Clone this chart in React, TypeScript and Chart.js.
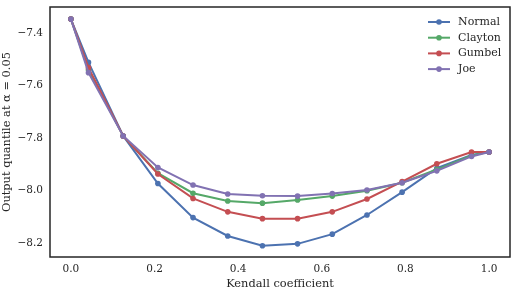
import React, { useEffect, useRef } from "react";
import { Chart, registerables } from "chart.js";

Chart.register(...registerables);

const kendall = [0, 0.042, 0.125, 0.208, 0.292, 0.375, 0.458, 0.542, 0.625, 0.708, 0.792, 0.875, 0.958, 1.0];
const normalQ = [-7.347, -7.512, -7.792, -7.973, -8.103, -8.173, -8.21, -8.203, -8.166, -8.093, -8.006, -7.915, -7.864, -7.853];
const claytonQ = [-7.347, -7.54, -7.792, -7.934, -8.01, -8.04, -8.048, -8.036, -8.021, -8.001, -7.97, -7.92, -7.866, -7.853];
const gumbelQ = [-7.347, -7.532, -7.792, -7.937, -8.03, -8.081, -8.107, -8.107, -8.081, -8.032, -7.966, -7.898, -7.853, -7.853];
const joeQ = [-7.347, -7.551, -7.792, -7.912, -7.979, -8.013, -8.02, -8.021, -8.011, -7.998, -7.97, -7.925, -7.87, -7.853];

const seriesNames = ["Normal", "Clayton", "Gumbel", "Joe"];
const seriesColors = ["#4C72B0", "#55A868", "#C44E52", "#8172B2"];
const seriesValues = [normalQ, claytonQ, gumbelQ, joeQ];

const xTicks = [0, 0.2, 0.4, 0.6, 0.8, 1.0];
const yTicks = [-8.2, -8.0, -7.8, -7.6, -7.4];

const FONT = "'DejaVu Serif', serif";
const TEXT = "#262626";

const fmt = (v: number) => v.toFixed(1).replace("-", "\u2212");

const framePlugin = {
  id: "frameLegend",
  afterDraw(chart: any) {
    const { ctx, chartArea } = chart;
    ctx.save();
    ctx.strokeStyle = "#262626";
    ctx.lineWidth = 1.5;
    ctx.strokeRect(chartArea.left, chartArea.top, chartArea.right - chartArea.left, chartArea.bottom - chartArea.top);
    // legend
    ctx.font = `11px ${FONT}`;
    ctx.textBaseline = "middle";
    ctx.textAlign = "left";
    seriesNames.forEach((name, i) => {
      const y = chartArea.top + 15 + i * 15.7;
      const x0 = chartArea.right - 82;
      const x1 = chartArea.right - 60;
      ctx.strokeStyle = seriesColors[i];
      ctx.lineWidth = 2;
      ctx.beginPath();
      ctx.moveTo(x0, y);
      ctx.lineTo(x1, y);
      ctx.stroke();
      ctx.fillStyle = seriesColors[i];
      ctx.beginPath();
      ctx.arc((x0 + x1) / 2, y, 2.8, 0, Math.PI * 2);
      ctx.fill();
      ctx.fillStyle = TEXT;
      ctx.fillText(name, chartArea.right - 52, y);
    });
    ctx.restore();
  },
};

export default function App() {
  const ref = useRef<HTMLCanvasElement>(null);
  useEffect(() => {
    if (!ref.current) return;
    const chart = new Chart(ref.current, {
      type: "line",
      data: {
        datasets: seriesNames.map((name, i) => ({
          label: name,
          data: kendall.map((x, j) => ({ x, y: seriesValues[i][j] })),
          borderColor: seriesColors[i],
          backgroundColor: seriesColors[i],
          pointBackgroundColor: seriesColors[i],
          pointBorderWidth: 0,
          pointRadius: 2.8,
          borderWidth: 2,
          tension: 0,
          order: 4 - i,
        })),
      },
      options: {
        responsive: false,
        animation: false,
        layout: { padding: { top: 7, right: 4, left: 0, bottom: 0 } },
        plugins: { legend: { display: false }, tooltip: { enabled: false } },
        scales: {
          x: {
            type: "linear",
            min: -0.05,
            max: 1.05,
            afterBuildTicks: (s: any) => {
              s.ticks = xTicks.map((v) => ({ value: v }));
            },
            afterFit: (s: any) => {
              s.height = 39;
              s.paddingLeft = 0;
              s.paddingRight = 0;
            },
            grid: { display: false, drawTicks: false },
            border: { display: false },
            ticks: {
              padding: 6,
              color: TEXT,
              font: { family: FONT, size: 10.5 },
              callback: (v: any) => fmt(Number(v)),
              maxRotation: 0,
            },
            title: {
              display: true,
              text: "Kendall coefficient",
              color: TEXT,
              font: { family: FONT, size: 11.4 },
              padding: { top: 0, bottom: 5 },
            },
          },
          y: {
            type: "linear",
            min: -8.253,
            max: -7.301,
            afterBuildTicks: (s: any) => {
              s.ticks = yTicks.map((v) => ({ value: v }));
            },
            afterFit: (s: any) => {
              s.width = 50;
              s.paddingTop = 0;
              s.paddingBottom = 0;
            },
            grid: { display: false, drawTicks: false },
            border: { display: false },
            ticks: {
              padding: 7,
              color: TEXT,
              font: { family: FONT, size: 10.5 },
              callback: (v: any) => fmt(Number(v)),
            },
            title: {
              display: true,
              text: "Output quantile at \u03b1 = 0.05",
              color: TEXT,
              font: { family: FONT, size: 11.4 },
              padding: { top: 0, bottom: 0 },
            },
          },
        },
      },
      plugins: [framePlugin],
    });
    return () => chart.destroy();
  }, []);
  return (
    <div style={{ position: "absolute", left: 0, top: 0, width: 514, height: 296 }}>
      <canvas ref={ref} width={514} height={296} style={{ display: "block" }} />
    </div>
  );
}
